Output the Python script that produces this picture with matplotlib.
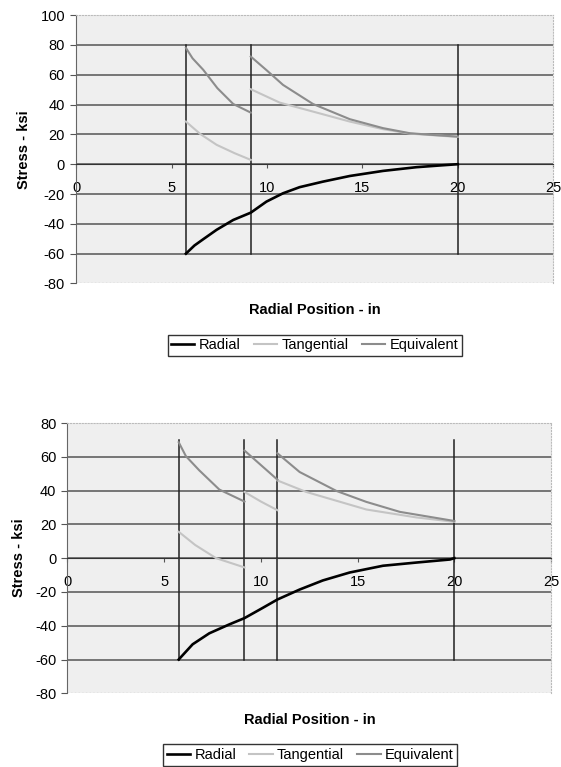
import matplotlib.pyplot as plt

plt.rcParams['font.family'] = ['Liberation Sans', 'DejaVu Sans']
plt.rcParams['font.size'] = 10.5
plt.rcParams['axes.unicode_minus'] = False

# top chart: two rings
interfaces_a = [5.75, 9.15, 20]
radial_a_x = [5.75, 6.2, 6.66, 7.36, 8.23, 9.15, 9.97, 10.84, 11.71, 12.93, 14.34, 16.08, 17.83, 19.0, 20]
radial_a_y = [-60, -54.5, -50.3, -44, -37.4, -32.5, -25.1, -19.5, -15.4, -11.7, -7.9, -4.5, -2.0, -0.9, 0]
tang_a = [
    ([5.75, 6.5, 7.36, 8.3, 9.15], [28.6, 20.3, 13, 7.4, 2.9]),
    ([9.15, 10.67, 12.41, 14.34, 16.08, 17.5, 20], [50.3, 41.3, 35.3, 28.6, 23.5, 20.5, 18.3]),
]
equiv_a = [
    ([5.75, 6.1, 6.66, 7.4, 8.23, 9.15], [78, 71, 63.3, 51, 40.4, 34.6]),
    ([9.15, 10.0, 10.84, 12.41, 14.34, 16.08, 17.48, 18.5, 20], [72.2, 62.8, 53.2, 40.4, 30.2, 24.2, 20.8, 19.8, 18.5]),
]

# bottom chart: three rings
interfaces_b = [5.75, 9.15, 10.85, 20]
radial_b_x = [5.75, 6.47, 7.33, 8.37, 9.15, 10.1, 10.85, 12.0, 13.2, 14.59, 16.31, 18.04, 19.77, 20]
radial_b_y = [-60, -51, -44.5, -39.2, -35.5, -29.4, -24.5, -18.6, -13.2, -8.5, -4.5, -2.6, -0.8, 0]
tang_b = [
    ([5.75, 6.6, 7.68, 9.15], [15.6, 7.8, 0, -5.5]),
    ([9.15, 10.0, 10.85], [39.2, 33.5, 28.4]),
    ([10.85, 12.34, 15.45, 18.04, 20], [46, 39.2, 28.8, 24.1, 21.5]),
]
equiv_b = [
    ([5.75, 6.12, 6.81, 7.85, 9.15], [68.6, 60.4, 52, 40.6, 33.5]),
    ([9.15, 9.92, 10.85], [63.7, 55.9, 46.5]),
    ([10.85, 12.0, 13.9, 15.45, 17.18, 20], [62.1, 51, 39.8, 33.3, 27.4, 22]),
]


def draw_chart(ax, interfaces, line_top, rx, ry, tang, equiv, ymin, ymax):
    ax.set_facecolor('#efefef')
    for y in range(ymin + 20, ymax, 20):
        ax.axhline(y, color='#555555', lw=1.1, zorder=1)
    for xi in interfaces:
        ax.plot([xi, xi], [-60, line_top], color='#202020', lw=1.1, zorder=2)
    ax.plot(rx, ry, color='black', lw=1.9, zorder=4, label='Radial')
    for i, (tx, ty) in enumerate(tang):
        ax.plot(tx, ty, color='#c4c4c4', lw=1.5, zorder=3, label='Tangential' if i == 0 else None)
    for i, (ex, ey) in enumerate(equiv):
        ax.plot(ex, ey, color='#8c8c8c', lw=1.5, zorder=3, label='Equivalent' if i == 0 else None)

    ax.set_xlim(0, 25)
    ax.set_ylim(ymin, ymax)
    ax.set_xticks(range(0, 26, 5))
    ax.set_yticks(range(ymin, ymax + 1, 20))

    ax.spines['bottom'].set_position(('data', 0))
    ax.spines['bottom'].set_color('#333333')
    ax.spines['left'].set_color('#666666')
    for s in ['top', 'right']:
        ax.spines[s].set_color('#bbbbbb')
        ax.spines[s].set_linestyle(':')
    ax.axhline(ymin, color='#bbbbbb', lw=1, ls=':')
    ax.tick_params(axis='x', direction='out', length=3, pad=9, color='#555555', labelsize=10.5)
    ax.tick_params(axis='y', direction='out', length=4, pad=4, color='#555555', labelsize=10.5)


fig = plt.figure(figsize=(5.61, 7.67), dpi=100)

ax1 = fig.add_axes([0.1358, 0.6304, 0.8503, 0.3499])
draw_chart(ax1, interfaces_a, 80, radial_a_x, radial_a_y, tang_a, equiv_a, -80, 100)
ax1.set_ylabel('Stress - ksi', fontweight='bold', fontsize=10.5)
ax1.yaxis.set_label_coords(-0.095, 0.5)
fig.text(0.561, 0.596, 'Radial Position - in', ha='center', va='center', fontweight='bold', fontsize=10.5)
h, l = ax1.get_legend_handles_labels()
fig.legend(h, l, loc='center', bbox_to_anchor=(0.561, 0.550), ncol=3, frameon=True, fancybox=False,
           edgecolor='#333333', handlelength=1.6, handletextpad=0.3, columnspacing=0.9,
           borderpad=0.25, fontsize=10.5, framealpha=1)

ax2 = fig.add_axes([0.1203, 0.0961, 0.862, 0.3524])
draw_chart(ax2, interfaces_b, 70, radial_b_x, radial_b_y, tang_b, equiv_b, -80, 80)
ax2.set_ylabel('Stress - ksi', fontweight='bold', fontsize=10.5)
ax2.yaxis.set_label_coords(-0.085, 0.5)
fig.text(0.553, 0.0613, 'Radial Position - in', ha='center', va='center', fontweight='bold', fontsize=10.5)
h, l = ax2.get_legend_handles_labels()
fig.legend(h, l, loc='center', bbox_to_anchor=(0.553, 0.0156), ncol=3, frameon=True, fancybox=False,
           edgecolor='#333333', handlelength=1.6, handletextpad=0.3, columnspacing=0.9,
           borderpad=0.25, fontsize=10.5, framealpha=1)

fig.savefig('out.png', dpi=100)
